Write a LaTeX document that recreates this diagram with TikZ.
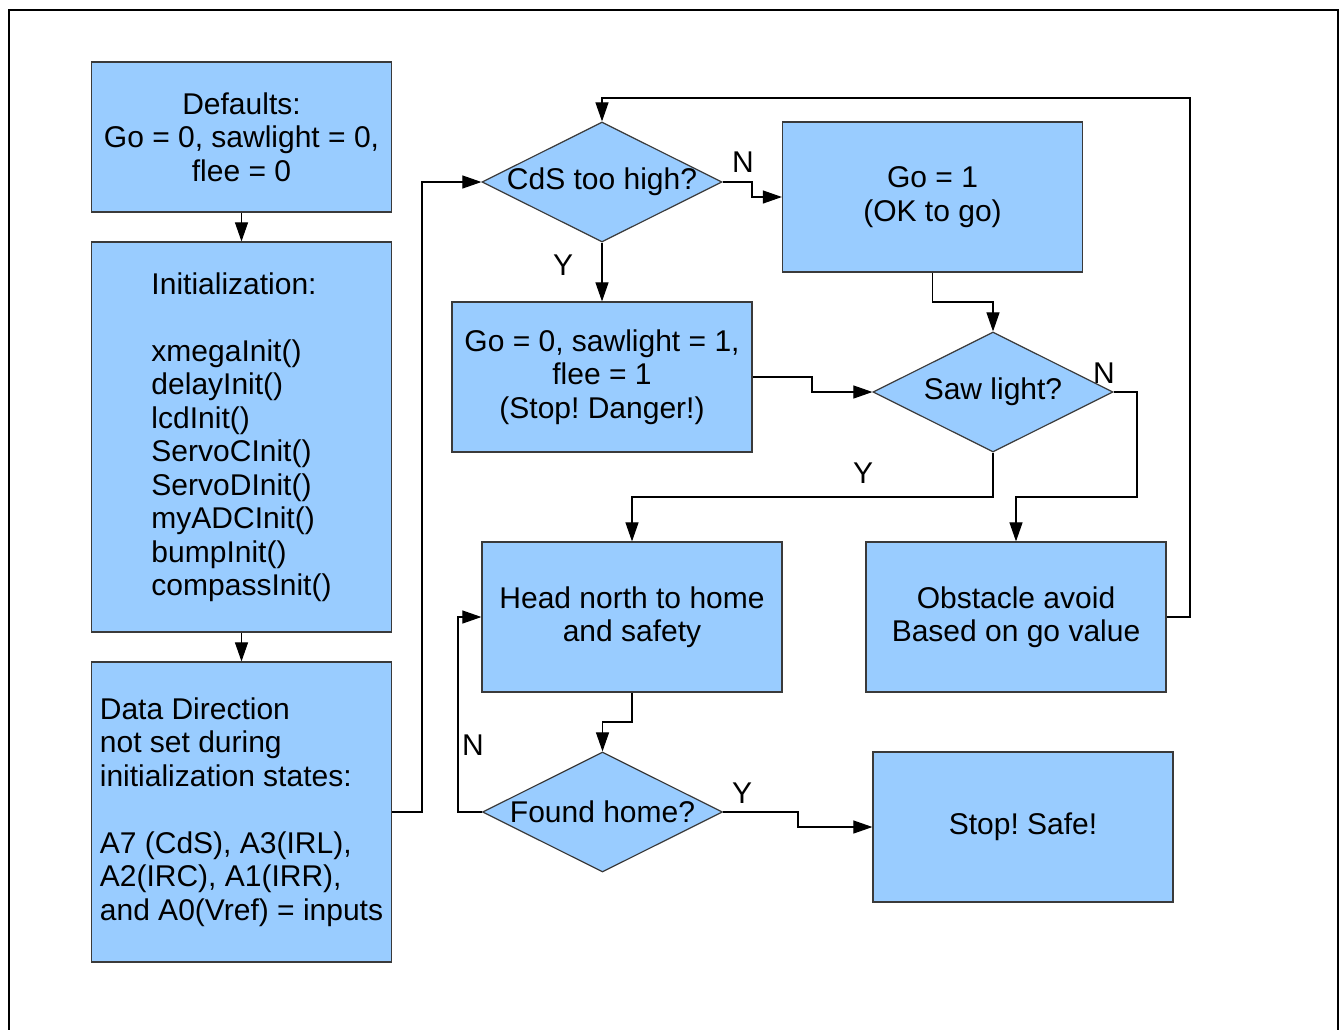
\documentclass[tikz,border=0pt]{standalone}
\usepackage{fontspec}
\setmainfont{Liberation Sans}
\usetikzlibrary{shapes.geometric,arrows.meta}
\definecolor{boxfill}{HTML}{99CCFF}
\definecolor{boxline}{HTML}{3A3A3A}
\frenchspacing
\tikzset{
  every node/.style={font=\fontsize{30}{33.5}\selectfont},
  procbox/.style={draw=boxline, line width=1.2pt, fill=boxfill, rectangle,
    minimum width=#1, inner sep=0pt, align=center},
  procbox/.default=300pt,
  decision/.style={draw=boxline, line width=1.2pt, fill=boxfill, diamond,
    minimum width=240pt, minimum height=120pt, inner sep=0pt, aspect=2},
  flow/.style={draw=black, line width=1.1pt,
    -{Triangle[length=19pt,width=13pt]}},
  branch/.style={inner sep=0pt}
}
\begin{document}
\begin{tikzpicture}[x=1pt,y=-1pt]
\useasboundingbox (0,0) rectangle (1340,1029);
% page frame (open at the bottom edge)
\draw[line width=1.2pt] (9,1035) -- (9,10) -- (1338,10) -- (1338,1035);

% left column: setup
\node[procbox, minimum height=150pt] (defaults) at (241.5,137)
  {Defaults:\\Go = 0, sawlight = 0,\\flee = 0};
\node[procbox, minimum height=390pt, align=left] (init) at (241.5,437)
  {Initialization:\\[33.5pt]xmegaInit()\\delayInit()\\lcdInit()\\ServoCInit()\\ServoDInit()\\myADCInit()\\bumpInit()\\compassInit()};
\node[procbox, minimum height=300pt, align=left] (ddr) at (241.5,812)
  {Data Direction\\not set during\\initialization states:\\[33.5pt]A7 (CdS), A3(IRL),\\A2(IRC), A1(IRR),\\and A0(Vref) = inputs};

% main loop
\node[decision] (cds) at (602,182) {\makebox[0pt]{CdS too high?}};
\node[procbox, minimum height=150pt] (go1) at (932.5,197) {Go = 1\\(OK to go)};
\node[procbox, minimum height=150pt] (go0) at (602,377)
  {Go = 0, sawlight = 1,\\flee = 1\\(Stop! Danger!)};
\node[decision] (saw) at (993,392) {\makebox[0pt]{Saw light?}};
\node[procbox, minimum height=150pt] (home) at (632,617) {Head north to home\\and safety};
\node[procbox, minimum height=150pt] (avoid) at (1016,617) {Obstacle avoid\\Based on go value};
\node[decision] (found) at (602.5,812) {\makebox[0pt]{Found home?}};
\node[procbox, minimum height=150pt] (safe) at (1023,827) {Stop! Safe!};

% connectors
\draw[flow] (defaults.south) -- (init.north);
\draw[flow] (init.south) -- (ddr.north);
\draw[flow] (ddr.east) -- (422,812) -- (422,182) -- (cds.west);
\draw[flow] (cds.east) -- (752,182) -- (752,197) -- (go1.west);
\draw[flow] (cds.south) -- (go0.north);
\draw[flow] (go1.south) -- (932.5,302) -- (993,302) -- (saw.north);
\draw[flow] (go0.east) -- (812,377) -- (812,392) -- (saw.west);
\draw[flow] (saw.south) -- (993,497) -- (632,497) -- (home.north);
\draw[flow] (saw.east) -- (1137,392) -- (1137,497) -- (1016,497) -- (avoid.north);
\draw[flow] (avoid.east) -- (1190,617) -- (1190,98) -- (602,98) -- (cds.north);
\draw[flow] (home.south) -- (632,722) -- (602.5,722) -- (found.north);
\draw[flow] (found.west) -- (458,812) -- (458,617) -- (home.west);
\draw[flow] (found.east) -- (798,812) -- (798,827) -- (safe.west);

% branch labels
\node[branch] (cdsN) at (743,162) {N};
\node[branch] (cdsY) at (563,265) {Y};
\node[branch] (sawN) at (1104,373) {N};
\node[branch] (sawY) at (863,473) {Y};
\node[branch] (foundN) at (473,745) {N};
\node[branch] (foundY) at (742,793) {Y};
\end{tikzpicture}
\end{document}
